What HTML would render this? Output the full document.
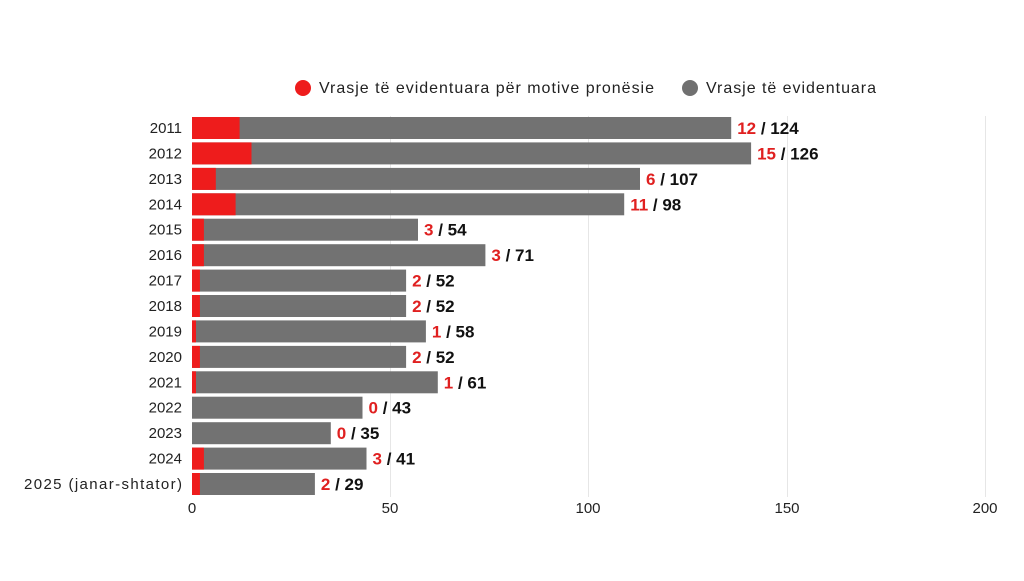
<!DOCTYPE html>
<html><head><meta charset="utf-8"><style>
body{margin:0;background:#fff;}
svg text{font-family:"Liberation Sans",sans-serif;}
</style></head><body>
<svg width="1024" height="576" xmlns="http://www.w3.org/2000/svg">
<g stroke="#e6e6e6" stroke-width="1">
<line x1="390.5" y1="116" x2="390.5" y2="497"/>
<line x1="588.5" y1="116" x2="588.5" y2="497"/>
<line x1="787.5" y1="116" x2="787.5" y2="497"/>
<line x1="985.5" y1="116" x2="985.5" y2="497"/>
</g>
<circle cx="303" cy="88" r="8" fill="#ee1c1c"/>
<text x="319" y="93" font-size="16" fill="#222" textLength="335">Vrasje të evidentuara për motive pronësie</text>
<circle cx="690" cy="88" r="8" fill="#707070"/>
<text x="706" y="93" font-size="16" fill="#222" textLength="170">Vrasje të evidentuara</text>

<g fill="#727272">
<rect x="192" y="117" width="539.2" height="22"/>
<rect x="192" y="142.4" width="559.1" height="22"/>
<rect x="192" y="167.9" width="448" height="22"/>
<rect x="192" y="193.3" width="432.2" height="22"/>
<rect x="192" y="218.7" width="226" height="22"/>
<rect x="192" y="244.2" width="293.4" height="22"/>
<rect x="192" y="269.6" width="214.1" height="22"/>
<rect x="192" y="295" width="214.1" height="22"/>
<rect x="192" y="320.4" width="233.9" height="22"/>
<rect x="192" y="345.9" width="214.1" height="22"/>
<rect x="192" y="371.3" width="245.8" height="22"/>
<rect x="192" y="396.7" width="170.5" height="22"/>
<rect x="192" y="422.2" width="138.8" height="22"/>
<rect x="192" y="447.6" width="174.5" height="22"/>
<rect x="192" y="473" width="122.9" height="22"/>
</g>
<g fill="#ee1c1c">
<rect x="192" y="117" width="47.6" height="22"/>
<rect x="192" y="142.4" width="59.5" height="22"/>
<rect x="192" y="167.9" width="23.8" height="22"/>
<rect x="192" y="193.3" width="43.6" height="22"/>
<rect x="192" y="218.7" width="11.9" height="22"/>
<rect x="192" y="244.2" width="11.9" height="22"/>
<rect x="192" y="269.6" width="7.9" height="22"/>
<rect x="192" y="295" width="7.9" height="22"/>
<rect x="192" y="320.4" width="4" height="22"/>
<rect x="192" y="345.9" width="7.9" height="22"/>
<rect x="192" y="371.3" width="4" height="22"/>
<rect x="192" y="447.6" width="11.9" height="22"/>
<rect x="192" y="473" width="7.9" height="22"/>
</g>

<g font-size="15" fill="#222" text-anchor="end">
<text x="182" y="133">2011</text>
<text x="182" y="158.4">2012</text>
<text x="182" y="183.9">2013</text>
<text x="182" y="209.3">2014</text>
<text x="182" y="234.7">2015</text>
<text x="182" y="260.2">2016</text>
<text x="182" y="285.6">2017</text>
<text x="182" y="311">2018</text>
<text x="182" y="336.4">2019</text>
<text x="182" y="361.9">2020</text>
<text x="182" y="387.3">2021</text>
<text x="182" y="412.7">2022</text>
<text x="182" y="438.2">2023</text>
<text x="182" y="463.6">2024</text>
<text x="182" y="489" textLength="158">2025 (janar-shtator)</text>
</g>

<g font-size="17" font-weight="bold" fill="#111">
<text x="737.2" y="134"><tspan fill="#e02020">12</tspan> / 124</text>
<text x="757.1" y="159.4"><tspan fill="#e02020">15</tspan> / 126</text>
<text x="646" y="184.9"><tspan fill="#e02020">6</tspan> / 107</text>
<text x="630.2" y="210.3"><tspan fill="#e02020">11</tspan> / 98</text>
<text x="424" y="235.7"><tspan fill="#e02020">3</tspan> / 54</text>
<text x="491.4" y="261.2"><tspan fill="#e02020">3</tspan> / 71</text>
<text x="412.1" y="286.6"><tspan fill="#e02020">2</tspan> / 52</text>
<text x="412.1" y="312"><tspan fill="#e02020">2</tspan> / 52</text>
<text x="431.9" y="337.4"><tspan fill="#e02020">1</tspan> / 58</text>
<text x="412.1" y="362.9"><tspan fill="#e02020">2</tspan> / 52</text>
<text x="443.8" y="388.3"><tspan fill="#e02020">1</tspan> / 61</text>
<text x="368.5" y="413.7"><tspan fill="#e02020">0</tspan> / 43</text>
<text x="336.8" y="439.2"><tspan fill="#e02020">0</tspan> / 35</text>
<text x="372.5" y="464.6"><tspan fill="#e02020">3</tspan> / 41</text>
<text x="320.9" y="490"><tspan fill="#e02020">2</tspan> / 29</text>
</g>

<g font-size="15" fill="#222" text-anchor="middle">
<text x="192" y="513">0</text><text x="390" y="513">50</text><text x="588" y="513">100</text><text x="787" y="513">150</text><text x="985" y="513">200</text>
</g>
</svg>
</body></html>
